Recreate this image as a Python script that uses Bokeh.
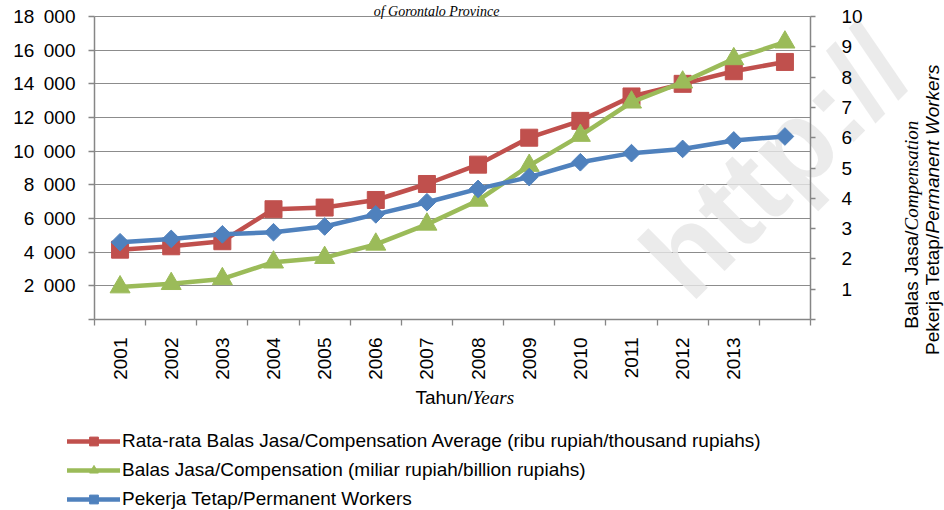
import math
from bokeh.plotting import figure
from bokeh.models import Range1d, LinearAxis, FixedTicker, Legend, LegendItem, Label, Grid
from bokeh.embed import file_html
from bokeh.resources import INLINE

# ---------------- data ----------------
years = [2001, 2002, 2003, 2004, 2005, 2006, 2007, 2008, 2009, 2010, 2011, 2012, 2013, 2014]
year_labels = ["2001", "2002", "2003", "2004", "2005", "2006", "2007",
               "2008", "2009", "2010", "2011", "2012", "2013", ""]
# Rata-rata Balas Jasa (ribu rupiah) - left axis
avg_compensation = [4150, 4350, 4650, 6550, 6650, 7100, 8050, 9200, 10800, 11800, 13250, 14000, 14750, 15300]
# Balas Jasa (miliar rupiah) - right axis
compensation = [1.07, 1.18, 1.34, 1.89, 2.04, 2.48, 3.14, 3.93, 5.08, 6.07, 7.17, 7.83, 8.60, 9.15]
# Pekerja Tetap - right axis
workers = [2.55, 2.66, 2.81, 2.88, 3.07, 3.47, 3.87, 4.31, 4.70, 5.19, 5.49, 5.63, 5.91, 6.04]

left_ticks = [0, 2000, 4000, 6000, 8000, 10000, 12000, 14000, 16000, 18000]
left_tick_labels = ["", "2\u2002000", "4\u2002000", "6\u2002000", "8\u2002000", "10\u2002000",
                    "12\u2002000", "14\u2002000", "16\u2002000", "18\u2002000"]
right_ticks = [0, 1, 2, 3, 4, 5, 6, 7, 8, 9, 10]
right_tick_labels = ["", "1", "2", "3", "4", "5", "6", "7", "8", "9", "10"]

series_names = [
    "Rata-rata Balas Jasa/Compensation Average (ribu rupiah/thousand rupiahs)",
    "Balas Jasa/Compensation (miliar rupiah/billion rupiahs)",
    "Pekerja Tetap/Permanent Workers",
]

# ---------------- style / layout ----------------
RED, GREEN, BLUE = "#C0504D", "#9BBB59", "#4F81BD"
AXIS = "#868686"
GRID = "#8c8c8c"
SANS, SERIF = "Liberation Sans", "Liberation Serif"
FS = "19px"

W, H = 944, 510
# pixel box of the chart area inside the canvas
L, R, T, B = 94, 810, 16, 319

x_lo, x_hi = years[0] - 0.5, years[-1] + 0.5
y_lo, y_hi = left_ticks[0], left_ticks[-1]
r_lo, r_hi = right_ticks[0], right_ticks[-1]
xpp = (x_hi - x_lo) / (R - L)
ypp = (y_hi - y_lo) / (B - T)
rpp = (r_hi - r_lo) / (B - T)

p = figure(width=W, height=H,
           x_range=Range1d(x_lo - L * xpp, x_hi + (W - R) * xpp),
           y_range=Range1d(y_lo - (H - B) * ypp, y_hi + T * ypp),
           output_backend="svg", toolbar_location=None, min_border=0)
p.outline_line_color = None
p.background_fill_color = "white"
p.border_fill_color = "white"
p.title.visible = False
p.extra_y_ranges = {"r": Range1d(r_lo - (H - B) * rpp, r_hi + T * rpp)}


def dx(px):
    return x_lo + (px - L) * xpp


def dy(py):
    return y_lo + (B - py) * ypp


# grid lines only across the chart area
p.xgrid.visible = False
g = p.ygrid[0]
if "cross_bounds" in Grid.properties():
    g.ticker = FixedTicker(ticks=left_ticks[1:])
    g.cross_bounds = (x_lo, x_hi)
    g.grid_line_color = GRID
    g.grid_line_width = 1.2
else:
    g.visible = False
    p.segment(x0=[x_lo] * (len(left_ticks) - 1), y0=left_ticks[1:],
              x1=[x_hi] * (len(left_ticks) - 1), y1=left_ticks[1:],
              line_color=GRID, line_width=1.2, level="underlay")

# x axis
xa = p.xaxis[0]
xa.fixed_location = y_lo
xa.bounds = (x_lo, x_hi)
xa.ticker = FixedTicker(ticks=years, minor_ticks=[y - 0.5 for y in years] + [years[-1] + 0.5])
xa.major_label_overrides = dict(zip(years, year_labels))
xa.major_tick_line_color = None
xa.major_tick_out = 0
xa.major_tick_in = 0
xa.minor_tick_line_color = AXIS
xa.minor_tick_line_width = 1.3
xa.minor_tick_out = 6
xa.minor_tick_in = 0
xa.major_label_orientation = math.pi / 2
xa.major_label_standoff = 12
xa.major_label_text_font = SANS
xa.major_label_text_font_size = FS
xa.major_label_text_color = "black"
xa.axis_line_color = AXIS
xa.axis_line_width = 1.5

# left axis
ya = p.yaxis[0]
ya.fixed_location = x_lo
ya.bounds = (y_lo, y_hi)
ya.ticker = FixedTicker(ticks=left_ticks)
ya.major_label_overrides = dict(zip(left_ticks, left_tick_labels))
ya.major_tick_out = 6
ya.major_tick_in = 0
ya.major_tick_line_color = AXIS
ya.major_tick_line_width = 1.3
ya.minor_tick_line_color = None
ya.major_label_standoff = 13
ya.major_label_text_font = SANS
ya.major_label_text_font_size = FS
ya.major_label_text_color = "black"
ya.axis_line_color = AXIS
ya.axis_line_width = 1.5

# right axis
ra = LinearAxis(y_range_name="r", ticker=FixedTicker(ticks=right_ticks),
                fixed_location=x_hi, bounds=(r_lo, r_hi))
ra.major_label_overrides = dict(zip(right_ticks, right_tick_labels))
ra.major_tick_out = 5
ra.major_tick_in = 0
ra.major_tick_line_color = AXIS
ra.major_tick_line_width = 1.3
ra.minor_tick_line_color = None
ra.major_label_standoff = 26
ra.major_label_text_font = SANS
ra.major_label_text_font_size = FS
ra.major_label_text_color = "black"
ra.axis_line_color = AXIS
ra.axis_line_width = 1.5
p.add_layout(ra, "right")

# watermark
p.add_layout(Label(x=dx(708), y=dy(322), text="http://", angle=math.radians(45),
                   text_font=SANS, text_font_style="bold", text_font_size="116px",
                   text_color="#e6e6e6", text_alpha=0.8, level="underlay"))

# series
lw = 4.5
r_line = p.line(years, avg_compensation, color=RED, line_width=lw, line_join="round", line_cap="round")
r_mark = p.scatter(years, avg_compensation, marker="square", size=17, color=RED)
g_line = p.line(years, compensation, color=GREEN, line_width=lw, line_join="round", line_cap="round",
                y_range_name="r")
g_mark = p.scatter(years, compensation, marker="triangle", size=20, color=GREEN, y_range_name="r")
b_line = p.line(years, workers, color=BLUE, line_width=lw, line_join="round", line_cap="round",
                y_range_name="r")
b_mark = p.scatter(years, workers, marker="square", angle=math.pi / 4, size=12.5, color=BLUE,
                   y_range_name="r")

legend = Legend(items=[
    LegendItem(label=series_names[0], renderers=[r_line, r_mark]),
    LegendItem(label=series_names[1], renderers=[g_line, g_mark]),
    LegendItem(label=series_names[2], renderers=[b_line, b_mark]),
], location=(67, 0), orientation="vertical",
    glyph_width=53, glyph_height=22, label_height=22, spacing=7,
    padding=0, margin=0, label_standoff=2,
    label_text_font=SANS, label_text_font_size=FS, label_text_color="black",
    border_line_color=None, background_fill_alpha=0)
p.add_layout(legend)

# chart title (cut at top in the original)
p.add_layout(Label(x=dx(436), y=dy(11), text="of Gorontalo Province", text_font=SERIF,
                   text_font_style="italic", text_font_size="14px", text_align="center",
                   text_baseline="alphabetic", text_color="black"))

# x axis title (mixed fonts)
p.add_layout(Label(x=dx(472), y=dy(397), text="Tahun/", text_font=SANS, text_font_size=FS,
                   text_align="right", text_baseline="middle", text_color="black"))
p.add_layout(Label(x=dx(472), y=dy(397), text="Years", text_font=SERIF, text_font_style="italic",
                   text_font_size=FS, text_align="left", text_baseline="middle", text_color="black"))

# right axis title (two rotated lines, mixed fonts)
p.add_layout(Label(x=dx(911), y=dy(230), text="Balas Jasa/", angle=math.pi / 2, text_font=SANS,
                   text_font_size=FS, text_align="right", text_baseline="middle", text_color="black"))
p.add_layout(Label(x=dx(911), y=dy(230), text="Compensation", angle=math.pi / 2, text_font=SERIF,
                   text_font_style="italic", text_font_size=FS, text_align="left",
                   text_baseline="middle", text_color="black"))
p.add_layout(Label(x=dx(932), y=dy(233), text="Pekerja Tetap/", angle=math.pi / 2, text_font=SANS,
                   text_font_size=FS, text_align="right", text_baseline="middle", text_color="black"))
p.add_layout(Label(x=dx(932), y=dy(233), text="Permanent Workers", angle=math.pi / 2, text_font=SANS,
                   text_font_style="italic", text_font_size=FS, text_align="left",
                   text_baseline="middle", text_color="black"))

open("out.html", "w").write(file_html(p, INLINE))
